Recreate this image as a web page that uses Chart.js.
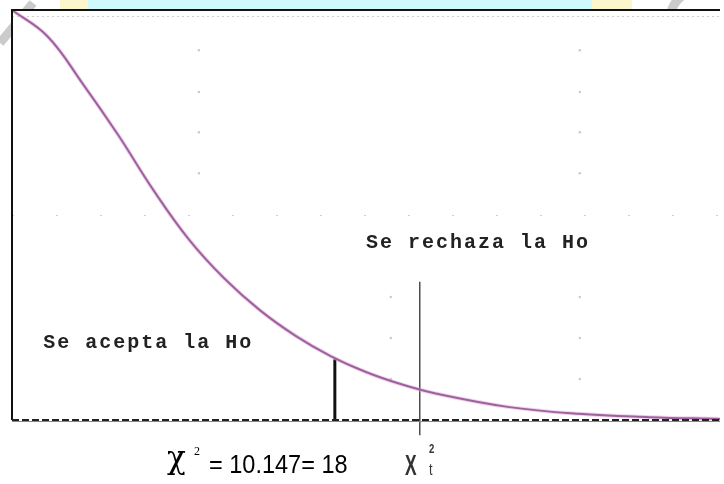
<!DOCTYPE html>
<html>
<head>
<meta charset="utf-8">
<script src="https://cdn.jsdelivr.net/npm/chart.js@4"></script>
<style>
  html, body { margin: 0; padding: 0; background: #fff; }
  canvas { display: block; }
</style>
</head>
<body>
<canvas id="chi" width="724" height="484"></canvas>
<script>
// ── Data ─────────────────────────────────────────────────────
const xValues  = [0, 0.5, 1, 1.5, 2, 2.5, 3, 3.5, 4, 4.5, 5, 5.5, 6, 7, 8, 9, 10];
const density  = [100, 93.6, 82, 69.5, 56, 44, 34.5, 26.8, 20.6, 15.6, 11.7, 8.7, 6.4, 3.2, 1.5, 0.7, 0.25];

// statistic line (thick) and critical value line (thin)
const statX   = 4.56;
const statTop = 14.8;
const critX   = 5.76;
const critTop = 33.7;
const critBottom = -3.7;

// dotted guide rows
const gridRows = [50, 98.5];

// faint leftover dots of the original grid
const dotX = [2.64, 2.64, 2.64, 2.64, 8.02, 8.02, 8.02, 8.02, 5.35, 5.35, 5.35, 8.02, 8.02, 8.02];
const dotY = [90.2, 80, 70.2, 60.2, 90.2, 80, 70.2, 60.2, 30, 20, 10, 30, 20, 10];

// region labels
const regionLabels = ['Se rechaza la Ho', 'Se acepta la Ho'];
const regionX      = [5.0, 0.44];
const regionY      = [43.2, 18.8];

// ── Helpers ──────────────────────────────────────────────────
// draw text squeezed horizontally (narrow face)
function narrowText(ctx, txt, x, y, sx) {
  ctx.save();
  ctx.translate(x, y);
  ctx.scale(sx, 1);
  ctx.fillText(txt, 0, 0);
  ctx.restore();
}

// ── Plugins ──────────────────────────────────────────────────
const frame = {
  id: 'frame',
  beforeDraw(chart) {
    const { ctx, chartArea: a } = chart;
    ctx.save();
    ctx.fillStyle = '#fff';
    ctx.fillRect(0, 0, chart.width, chart.height);
    // cyan band above the plot with faint watermark bits
    ctx.fillStyle = '#cff9fd';
    ctx.fillRect(85, 0, 510, a.top);
    ctx.fillStyle = '#fbf6cc';
    ctx.fillRect(60, 0, 28, a.top);
    ctx.fillRect(592, 0, 40, a.top);
    ctx.strokeStyle = 'rgba(160,160,160,0.55)';
    ctx.lineWidth = 9;
    ctx.beginPath();
    ctx.arc(700, 20, 30, Math.PI * 1.05, Math.PI * 1.6);
    ctx.stroke();
    ctx.beginPath();
    ctx.moveTo(0, 43); ctx.lineTo(33, 3);
    ctx.stroke();
    // plot area stays white
    ctx.fillStyle = '#fff';
    ctx.fillRect(a.left, a.top, a.right - a.left, a.bottom - a.top);
    ctx.restore();
  },
  beforeDatasetsDraw(chart) {
    const { ctx, chartArea: a, scales: { y } } = chart;
    ctx.save();
    // dotted rows
    ctx.strokeStyle = '#d0d0d0';
    ctx.lineWidth = 1;
    gridRows.forEach((v, i) => {
      const py = Math.round(y.getPixelForValue(v)) + 0.5;
      ctx.setLineDash(i === 0 ? [2, 42] : [2, 3]);
      ctx.beginPath();
      ctx.moveTo(a.left, py); ctx.lineTo(a.right, py);
      ctx.stroke();
    });
    ctx.setLineDash([]);
    ctx.restore();
  },
  afterDatasetsDraw(chart) {
    const { ctx, chartArea: a } = chart;
    ctx.save();
    ctx.strokeStyle = '#111';
    ctx.lineWidth = 2;
    // left + top border
    ctx.beginPath();
    ctx.moveTo(a.left, a.bottom); ctx.lineTo(a.left, a.top);
    ctx.lineTo(a.right, a.top);
    ctx.stroke();
    // dashed baseline
    ctx.strokeStyle = '#888';
    ctx.lineWidth = 1;
    ctx.beginPath();
    ctx.moveTo(a.left, a.bottom + 1.5); ctx.lineTo(a.right, a.bottom + 1.5);
    ctx.stroke();
    ctx.strokeStyle = '#222';
    ctx.lineWidth = 2;
    ctx.setLineDash([7, 3]);
    ctx.beginPath();
    ctx.moveTo(a.left, a.bottom); ctx.lineTo(a.right, a.bottom);
    ctx.stroke();
    ctx.restore();
  },
  afterDraw(chart) {
    const { ctx, chartArea: a, scales: { x, y } } = chart;
    ctx.save();
    // region labels
    ctx.fillStyle = '#222';
    ctx.font = 'bold 20px "Liberation Mono", "DejaVu Sans Mono", monospace';
    ctx.letterSpacing = '2px';
    ctx.textBaseline = 'middle';
    regionLabels.forEach((t, i) => {
      ctx.fillText(t, x.getPixelForValue(regionX[i]), y.getPixelForValue(regionY[i]));
    });
    ctx.letterSpacing = '0px';

    // chi-square statistic under the axis
    const cx = x.getPixelForValue(2.19);
    const base = a.bottom + 53;
    ctx.textBaseline = 'alphabetic';
    ctx.fillStyle = '#000';
    ctx.font = '31px "DejaVu Serif", serif';
    ctx.fillText('\u03C7', cx, base - 5);
    ctx.font = '12px "Liberation Serif", serif';
    ctx.fillText('2', cx + 27, base - 18);
    ctx.font = '25px "Liberation Sans", sans-serif';
    narrowText(ctx, '= 10.147= 18', cx + 42, base, 0.94);

    // critical value label
    const tx = x.getPixelForValue(5.55);
    ctx.fillStyle = '#333';
    ctx.font = 'bold 30px "Liberation Sans", sans-serif';
    narrowText(ctx, 'X', tx, a.bottom + 55, 0.58);
    ctx.font = 'bold 12px "Liberation Sans", sans-serif';
    narrowText(ctx, '2', tx + 24, a.bottom + 33, 0.8);
    ctx.font = '16px "Liberation Sans", sans-serif';
    narrowText(ctx, 't', tx + 24, a.bottom + 55, 0.8);
    ctx.restore();
  }
};

// ── Chart ────────────────────────────────────────────────────
const curve = xValues.map((v, i) => ({ x: v, y: density[i] }));

new Chart(document.getElementById('chi'), {
  type: 'line',
  data: {
    datasets: [
      { // soft pink halo of the curve
        data: curve, borderColor: 'rgba(220,160,215,0.45)', borderWidth: 4,
        pointRadius: 0, tension: 0.4, clip: false,
      },
      {
        data: curve, borderColor: '#6e2f6e', borderWidth: 2,
        pointRadius: 0, tension: 0.4, clip: false,
      },
      {
        data: [{ x: statX, y: 0 }, { x: statX, y: statTop }],
        borderColor: '#111', borderWidth: 3, pointRadius: 0,
      },
      {
        data: [{ x: critX, y: critBottom }, { x: critX, y: critTop }],
        borderColor: '#222', borderWidth: 1.2, pointRadius: 0, clip: false,
      },
      {
        type: 'scatter',
        data: dotX.map((v, i) => ({ x: v, y: dotY[i] })),
        pointRadius: 1.2, pointBackgroundColor: '#c8c8c8', pointBorderWidth: 0,
      },
    ]
  },
  options: {
    responsive: false,
    animation: false,
    events: [],
    layout: { padding: { left: 12, top: 10, right: 0, bottom: 64 } },
    plugins: { legend: { display: false }, tooltip: { enabled: false } },
    scales: {
      x: { type: 'linear', min: 0, max: 10, display: false },
      y: { min: 0, max: 100, display: false },
    }
  },
  plugins: [frame],
});
</script>
</body>
</html>
